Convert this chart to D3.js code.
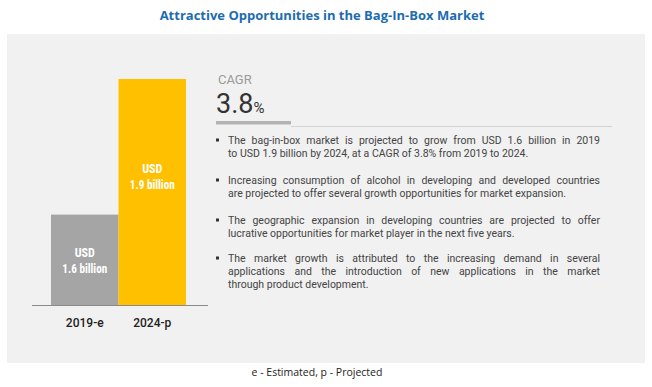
<!DOCTYPE html>
<html><head><meta charset="utf-8">
<script src="https://cdn.jsdelivr.net/npm/d3@7/dist/d3.min.js"></script>
<style>
html,body{margin:0;padding:0;background:#fff;}
svg{display:block;}
</style></head>
<body>
<svg id="chart" width="652" height="387"></svg>
<script>
const title = "Attractive Opportunities in the Bag-In-Box Market";
const categories = ["2019-e", "2024-p"];
const values = [1.6, 1.9];
const valueLabels = ["1.6 billion", "1.9 billion"];
const barColors = ["#a5a5a5", "#ffc000"];
const cagrLabel = "CAGR";
const cagrValue = "3.8";
const footnote = "e - Estimated, p - Projected";
const bullets = [
  ["The bag-in-box market is projected to grow from USD 1.6 billion in 2019",
   "to USD 1.9 billion by 2024, at a CAGR of 3.8% from 2019 to 2024."],
  ["Increasing consumption of alcohol in developing and developed countries",
   "are projected to offer several growth opportunities for market expansion."],
  ["The geographic expansion in developing countries are projected to offer",
   "lucrative opportunities for market player in the next five years."],
  ["The market growth is attributed to the increasing demand in several",
   "applications and the introduction of new applications in the market",
   "through product development."]
];

const svg = d3.select("#chart");

// title
const t = svg.append("text").attr("x", 322).attr("y", 20)
  .attr("text-anchor", "middle")
  .style("font-family", "'Open Sans', sans-serif").style("font-weight", "700")
  .style("font-size", "13px").attr("fill", "#1d6cb0").text(title);
if (t.node().getComputedTextLength() > 336) t.attr("textLength", 335).attr("lengthAdjust", "spacingAndGlyphs");

// panel
svg.append("rect").attr("x", 7).attr("y", 34).attr("width", 638).attr("height", 329).attr("fill", "#f1f1f1");

// bars
const x = d3.scaleBand().domain(categories).range([51, 186]).padding(0);
const y = d3.scaleLinear().domain([1.4, 1.9]).range([305, 79]);

svg.selectAll("rect.bar").data(categories).join("rect").attr("class", "bar")
  .attr("x", d => x(d)).attr("width", x.bandwidth())
  .attr("y", (d, i) => y(values[i])).attr("height", (d, i) => y(1.4) - y(values[i]))
  .attr("fill", (d, i) => barColors[i]);

svg.append("line").attr("x1", 32).attr("x2", 208).attr("y1", 305.5).attr("y2", 305.5)
  .attr("stroke", "#8a8a8a").attr("stroke-width", 1);

const lblFont = "'Liberation Sans Narrow', 'Roboto Condensed', Roboto, sans-serif";
function fit(sel, maxW) {
  const l = sel.node().getComputedTextLength();
  if (l > maxW) sel.attr("textLength", maxW).attr("lengthAdjust", "spacingAndGlyphs");
}
categories.forEach((c, i) => {
  const cx = x(c) + x.bandwidth() / 2;
  const top = y(values[i]);
  const midY = values[i] < 1.7 ? (top + 305) / 2 : top + 97;
  const a = svg.append("text").attr("x", cx).attr("y", midY - 3).attr("text-anchor", "middle")
    .style("font-family", lblFont).style("font-weight", "700").style("font-size", "12px")
    .attr("fill", "#fff").text("USD");
  fit(a, 23);
  const b = svg.append("text").attr("x", cx).attr("y", midY + 13).attr("text-anchor", "middle")
    .style("font-family", lblFont).style("font-weight", "700").style("font-size", "12px")
    .attr("fill", "#fff").text(valueLabels[i]);
  fit(b, 45);
  svg.append("text").attr("x", cx).attr("y", 327).attr("text-anchor", "middle")
    .style("font-family", "Roboto, sans-serif").style("font-weight", "500").style("font-size", "12px")
    .attr("fill", "#222").text(c);
});

// CAGR block
svg.append("text").attr("x", 218).attr("y", 84)
  .style("font-family", "'Liberation Sans Narrow', Roboto, sans-serif").style("font-size", "13px")
  .attr("fill", "#9a9a9a").text(cagrLabel);
const big = svg.append("text").attr("x", 216).attr("y", 113)
  .style("font-family", "Roboto, sans-serif").style("font-size", "27px").attr("fill", "#333");
big.append("tspan").text(cagrValue);
big.append("tspan").style("font-size", "15px").text("%");
svg.append("rect").attr("x", 216).attr("y", 121).attr("width", 75).attr("height", 3.5).attr("fill", "#b3b3b3");
svg.append("line").attr("x1", 291).attr("x2", 612).attr("y1", 126.5).attr("y2", 126.5)
  .attr("stroke", "#d2d2d2").attr("stroke-width", 1);

// bullets with justified text
const textLeft = 228, textRight = 600, lineH = 13;
const starts = [144, 184, 224, 262];
const bodyFont = "Roboto, sans-serif";
const measurer = svg.append("text").style("font-family", bodyFont).style("font-size", "10.5px").attr("opacity", 0);
function w(s) { measurer.text(s); return measurer.node().getComputedTextLength(); }
bullets.forEach((para, pi) => {
  const by = starts[pi];
  svg.append("rect").attr("x", 216).attr("y", by - 5.5).attr("width", 3).attr("height", 3).attr("fill", "#333");
  para.forEach((line, li) => {
    const yy = by + li * lineH;
    const last = li === para.length - 1;
    const g = svg.append("text").attr("y", yy)
      .style("font-family", bodyFont).style("font-size", "10.5px").attr("fill", "#444");
    if (last) {
      g.attr("x", textLeft).text(line);
    } else {
      const words = line.split(" ");
      const widths = words.map(w);
      const total = d3.sum(widths);
      const gap = (textRight - textLeft - total) / (words.length - 1);
      let cx = textLeft;
      words.forEach((wd, k) => {
        g.append("tspan").attr("x", cx).text(wd);
        cx += widths[k] + gap;
      });
    }
  });
});
measurer.remove();

// footnote
svg.append("text").attr("x", 317).attr("y", 376).attr("text-anchor", "middle")
  .style("font-family", "'Open Sans', sans-serif").style("font-size", "10.5px")
  .attr("fill", "#222").text(footnote);
</script>
</body></html>
